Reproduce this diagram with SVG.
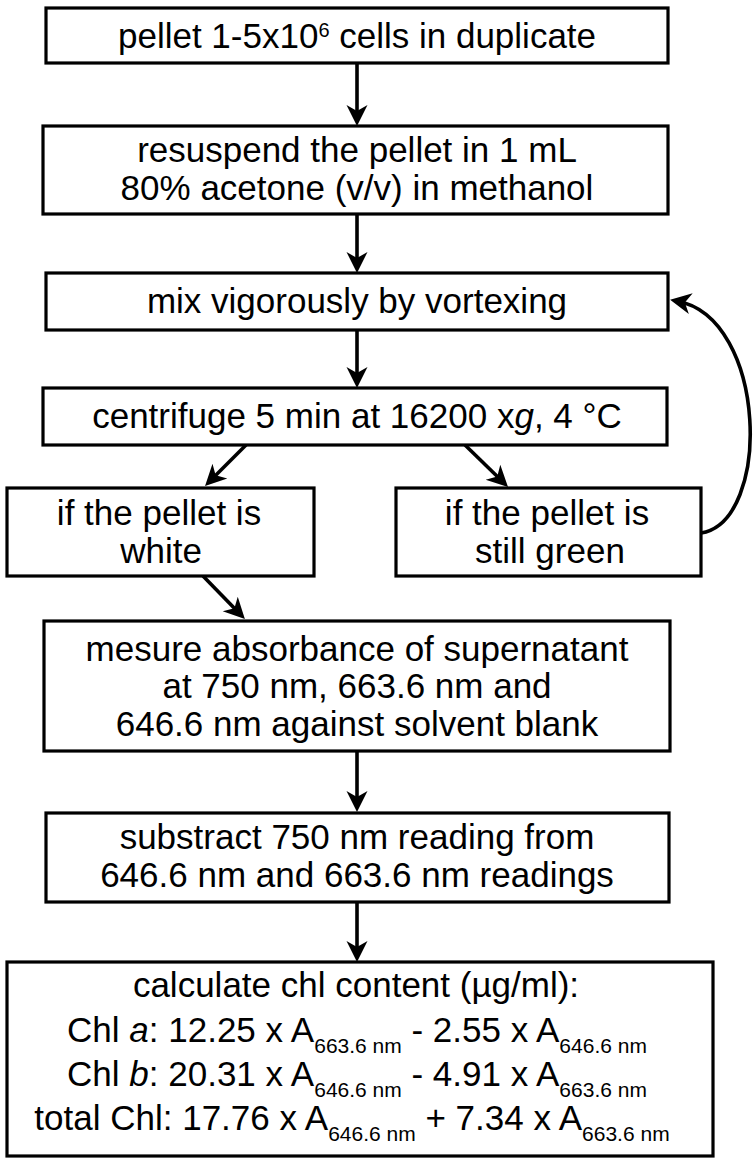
<svg xmlns="http://www.w3.org/2000/svg" width="756" height="1165" viewBox="0 0 756 1165">
<style>
.box{fill:#fff;stroke:#000;stroke-width:3.2}
.t{font-family:"Liberation Sans",Arial,sans-serif;font-size:35px;fill:#000;text-anchor:middle}
.s{font-size:21px}
.sup{font-size:20px}
.i{font-style:italic}
.c{fill:none;stroke:#000;stroke-width:3.6}
</style>
<defs>
<marker id="ah" markerUnits="userSpaceOnUse" markerWidth="24" markerHeight="24" viewBox="0 -12 24 24" refX="14" refY="0" orient="auto">
<path d="M0,-10.5 L21,0 L0,10.5 L6,0 Z" fill="#000"/>
</marker>
</defs>
<rect width="756" height="1165" fill="#fff"/>
<g id="connectors">
<line class="c" x1="357" y1="63" x2="357" y2="119" marker-end="url(#ah)"/>
<line class="c" x1="357" y1="214" x2="357" y2="266" marker-end="url(#ah)"/>
<line class="c" x1="357" y1="330" x2="357" y2="381" marker-end="url(#ah)"/>
<line class="c" x1="246" y1="445" x2="210" y2="481" marker-end="url(#ah)"/>
<line class="c" x1="465" y1="445" x2="503" y2="482" marker-end="url(#ah)"/>
<line class="c" x1="203" y1="576" x2="240" y2="614" marker-end="url(#ah)"/>
<line class="c" x1="357" y1="751" x2="357" y2="805" marker-end="url(#ah)"/>
<line class="c" x1="357" y1="902" x2="357" y2="955" marker-end="url(#ah)"/>
<path class="c" d="M701,533 C772,522 768,318 677,301" marker-end="url(#ah)"/>
</g>
<g id="n1"><rect class="box" x="46" y="8" width="622" height="55"/>
<text class="t" x="357" y="48">pellet 1-5x10<tspan class="sup" dy="-11">6</tspan><tspan dy="11"> cells in duplicate</tspan></text></g>
<g id="n2"><rect class="box" x="43" y="126" width="625" height="88"/>
<text class="t" x="357" y="162">resuspend the pellet in 1 mL</text>
<text class="t" x="357" y="200">80% acetone (v/v) in methanol</text></g>
<g id="n3"><rect class="box" x="46" y="273" width="622" height="57"/>
<text class="t" x="357" y="313">mix vigorously by vortexing</text></g>
<g id="n4"><rect class="box" x="43" y="388" width="624" height="57"/>
<text class="t" x="357" y="428">centrifuge 5 min at 16200 x<tspan class="i">g</tspan>, 4 °C</text></g>
<g id="n5"><rect class="box" x="7" y="488" width="307" height="88"/>
<text class="t" x="159" y="525">if the pellet is</text>
<text class="t" x="161" y="563">white</text></g>
<g id="n6"><rect class="box" x="396" y="488" width="305" height="88"/>
<text class="t" x="547" y="525">if the pellet is</text>
<text class="t" x="550" y="563">still green</text></g>
<g id="n7"><rect class="box" x="44" y="621" width="626" height="130"/>
<text class="t" x="357" y="661">mesure absorbance of supernatant</text>
<text class="t" x="357" y="698">at 750 nm, 663.6 nm and</text>
<text class="t" x="357" y="736">646.6 nm against solvent blank</text></g>
<g id="n8"><rect class="box" x="46" y="813" width="623" height="89"/>
<text class="t" x="357" y="849">substract 750 nm reading from</text>
<text class="t" x="357" y="887">646.6 nm and 663.6 nm readings</text></g>
<g id="n9"><rect class="box" x="7" y="962" width="706" height="194"/>
<text class="t" x="356" y="997">calculate chl content (µg/ml):</text>
<text class="t" x="357" y="1042">Chl <tspan class="i">a</tspan>: 12.25 x A<tspan class="s" dy="11">663.6 nm</tspan><tspan dy="-11"> - 2.55 x A</tspan><tspan class="s" dy="11">646.6 nm</tspan></text>
<text class="t" x="357" y="1086">Chl <tspan class="i">b</tspan>: 20.31 x A<tspan class="s" dy="11">646.6 nm</tspan><tspan dy="-11"> - 4.91 x A</tspan><tspan class="s" dy="11">663.6 nm</tspan></text>
<text class="t" x="352" y="1130">total Chl: 17.76 x A<tspan class="s" dy="11">646.6 nm</tspan><tspan dy="-11"> + 7.34 x A</tspan><tspan class="s" dy="11">663.6 nm</tspan></text></g>
</svg>
